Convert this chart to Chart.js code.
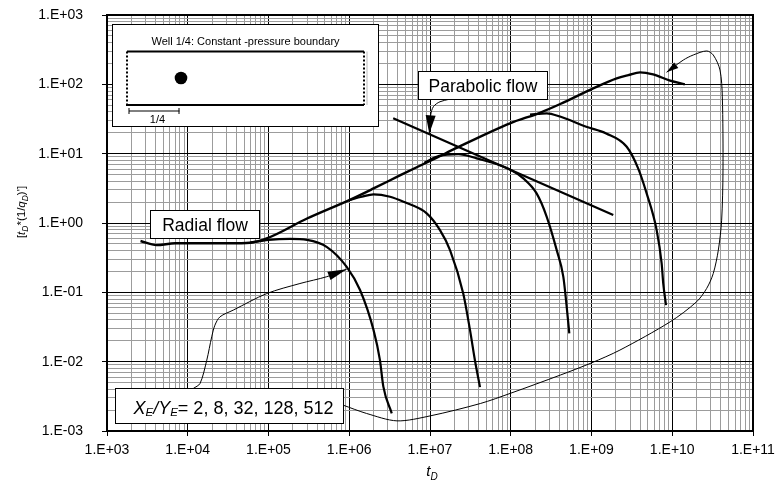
<!DOCTYPE html>
<html lang="en">
<head>
<meta charset="UTF-8">
<title>Rate derivative type curves - well 1/4</title>
<style>
    html, body {
        margin: 0;
        padding: 0;
        background: #fff;
    }
    .chart-box {
        position: relative;
        width: 777px;
        height: 489px;
    }
</style>
</head>
<body>
<div class="chart-box">
    <canvas id="type-curves"></canvas>
</div>

<script src="https://cdn.jsdelivr.net/npm/chart.js"></script>
<script>
    // Dimensionless time t_D and derivative [t_D*(1/q_D)'] along each curve.
    // XE/YE = 512 follows the full radial + parabolic envelope.
    const envelopeT = [2.6e3, 4.1e3, 7.0e3, 1.4e4, 3.3e4, 5.9e4, 9.5e4, 3.0e5, 1.0e6, 2.0e6, 4.3e6, 1.2e7, 2.1e7, 9.8e7, 2.3e8, 4.1e8, 1.05e9, 2.05e9, 2.86e9, 4.0e9, 5.8e9, 9.4e9, 1.43e10];
    const envelopeY = [0.55, 0.48, 0.51, 0.51, 0.51, 0.52, 0.60, 1.16, 2.14, 3.15, 4.9, 8.7, 12.0, 27.4, 38.9, 52.0, 87.5, 122, 136, 149, 139, 113, 100];

    const ratio2T = [5.9e4, 1.0e5, 1.85e5, 3.0e5, 5.3e5, 9.3e5, 1.36e6, 2.0e6, 2.4e6, 2.64e6, 3.36e6];
    const ratio2Y = [0.52, 0.57, 0.59, 0.57, 0.45, 0.233, 0.108, 0.0285, 0.0105, 4.4e-3, 1.8e-3];

    const ratio8T = [1.0e6, 1.43e6, 2.0e6, 3.2e6, 4.7e6, 9.1e6, 1.33e7, 1.77e7, 2.58e7, 3.13e7, 3.6e7, 4.16e7];
    const ratio8Y = [2.14, 2.39, 2.59, 2.39, 2.02, 1.38, 0.79, 0.407, 0.0964, 0.0285, 0.0105, 4.3e-3];

    const ratio32T = [8.5e6, 1.3e7, 2.24e7, 3.79e7, 9.8e7, 1.43e8, 2.09e8, 2.79e8, 3.71e8, 4.48e8, 4.93e8, 5.31e8];
    const ratio32Y = [7.4, 9.3, 9.87, 8.55, 5.93, 4.40, 2.67, 1.23, 0.406, 0.167, 0.0618, 0.0255];

    const ratio128T = [1.73e8, 2.79e8, 4.07e8, 8.61e8, 1.52e9, 2.73e9, 3.77e9, 4.82e9, 6.41e9, 7.39e9, 7.74e9, 8.37e9];
    const ratio128Y = [36.7, 38.2, 34.3, 24.4, 19.6, 12.6, 6.2, 2.67, 0.79, 0.261, 0.134, 0.0653];

    // slope -1/2 reference line for parabolic flow
    const parabolicT = [3.5e6, 1.86e9];
    const parabolicY = [32.3, 1.30];

    // leader lines from the labels to the curves
    const leaderParabolicT = [2.24e7, 1.33e7, 1.10e7, 1.02e7, 9.8e6];
    const leaderParabolicY = [64.9, 56.1, 47.5, 36.1, 19.6];

    const leaderRatioLowT = [1.17e4, 1.42e4, 1.72e4, 1.98e4, 2.17e4, 2.51e4, 3.66e4, 9.5e4, 2.45e5, 5.26e5, 9.3e5];
    const leaderRatioLowY = [4.1e-3, 4.85e-3, 1.05e-2, 2.28e-2, 3.36e-2, 4.44e-2, 5.54e-2, 9.6e-2, 0.134, 0.168, 0.216];

    const leaderRatioHighT = [8.4e5, 1.64e6, 3.9e6, 1.0e7, 4.2e7, 9.8e7, 4.1e8, 1.0e9, 2.25e9, 9.4e9, 2.0e10, 2.67e10, 3.22e10, 3.72e10, 4.09e10, 4.25e10, 4.17e10, 3.9e10, 3.22e10, 2.67e10, 1.82e10, 1.37e10, 8.5e9];
    const leaderRatioHighY = [2.36e-3, 1.79e-3, 1.40e-3, 1.65e-3, 2.49e-3, 3.48e-3, 6.4e-3, 9.6e-3, 1.47e-2, 3.75e-2, 7.3e-2, 0.114, 0.187, 0.406, 1.10, 5.8, 66, 161, 265, 303, 265, 224, 149];

    // axis tick labels, one per decade
    const xTickLabels = ['1.E+03', '1.E+04', '1.E+05', '1.E+06', '1.E+07', '1.E+08', '1.E+09', '1.E+10', '1.E+11'];
    const yTickLabels = ['1.E-03', '1.E-02', '1.E-01', '1.E+00', '1.E+01', '1.E+02', '1.E+03'];

    const chartFont = '"Liberation Sans", Arial, Helvetica, sans-serif';

    function toPoints(ts, ys) {
        return ts.map((t, i) => ({ x: t, y: ys[i] }));
    }

    // 1..9 x 10^e for every decade, so each gets its fine grid
    function decadeTicks(lo, hi) {
        const out = [];
        for (let e = lo; e < hi; e++) {
            for (let m = 1; m <= 9; m++) {
                out.push({ value: Number((m * Math.pow(10, e)).toPrecision(6)) });
            }
        }
        out.push({ value: Math.pow(10, hi) });
        return out;
    }

    function isDecade(v) {
        const l = Math.log10(v);
        return Math.abs(l - Math.round(l)) < 1e-6;
    }

    // type curves run left to right, so monotone splines keep them smooth
    function curve(ts, ys, width, extra) {
        return Object.assign({
            data: toPoints(ts, ys),
            showLine: true,
            borderColor: '#000',
            backgroundColor: '#000',
            borderWidth: width,
            pointRadius: 0,
            cubicInterpolationMode: 'monotone',
            borderCapStyle: 'butt',
            borderJoinStyle: 'round'
        }, extra || {});
    }

    function leader(ts, ys, head) {
        return curve(ts, ys, 1, { cubicInterpolationMode: 'default', tension: 0.3, arrowHead: head });
    }

    // draws a sequence of text pieces (italic / subscript) side by side
    function drawRuns(ctx, runs, x, y, align) {
        const fontOf = r => (r.italic ? 'italic ' : '') + r.size + 'px ' + chartFont;
        let total = 0;
        runs.forEach(r => {
            ctx.font = fontOf(r);
            r.w = ctx.measureText(r.text).width;
            total += r.w;
        });
        let cx = align === 'center' ? x - total / 2 : x;
        ctx.textAlign = 'left';
        ctx.textBaseline = 'alphabetic';
        runs.forEach(r => {
            ctx.font = fontOf(r);
            ctx.fillText(r.text, cx, y + (r.shift || 0));
            cx += r.w;
        });
    }

    function arrowHead(ctx, fromX, fromY, tipX, tipY, len, width) {
        const a = Math.atan2(tipY - fromY, tipX - fromX);
        const bx = tipX - len * Math.cos(a);
        const by = tipY - len * Math.sin(a);
        const nx = -Math.sin(a) * width / 2;
        const ny = Math.cos(a) * width / 2;
        ctx.beginPath();
        ctx.moveTo(tipX, tipY);
        ctx.lineTo(bx + nx, by + ny);
        ctx.lineTo(bx - nx, by - ny);
        ctx.closePath();
        ctx.fill();
    }

    // label boxes, anchored in data units (t_D, derivative)
    const notes = {
        radial: { from: [3.41e3, 1.53], to: [7.7e4, 0.600], text: 'Radial flow', size: 17.5 },
        parabolic: { from: [7.05e6, 155.6], to: [2.79e8, 61.4], text: 'Parabolic flow', size: 17.5 },
        ratios: { from: [1.26e3, 4.19e-3], to: [8.44e5, 1.31e-3] },
        well: { from: [1.16e3, 741], to: [2.27e6, 25.0] }
    };

    const decorations = {
        id: 'decorations',
        afterDatasetsDraw(chart) {
            const { ctx, chartArea } = chart;
            const sx = chart.scales.x;
            const sy = chart.scales.y;
            const box = n => {
                const x1 = Math.round(sx.getPixelForValue(n.from[0])) + 0.5;
                const y1 = Math.round(sy.getPixelForValue(n.from[1])) + 0.5;
                const x2 = Math.round(sx.getPixelForValue(n.to[0])) + 0.5;
                const y2 = Math.round(sy.getPixelForValue(n.to[1])) + 0.5;
                ctx.fillStyle = '#fff';
                ctx.fillRect(x1, y1, x2 - x1, y2 - y1);
                ctx.strokeStyle = '#000';
                ctx.lineWidth = 1;
                ctx.strokeRect(x1, y1, x2 - x1, y2 - y1);
                return { x1, y1, x2, y2 };
            };

            ctx.save();

            // arrow heads at the end of the leader lines
            chart.data.datasets.forEach((ds, i) => {
                if (!ds.arrowHead) return;
                const pts = chart.getDatasetMeta(i).data;
                const tip = pts[pts.length - 1];
                const prev = pts[pts.length - 2];
                let fx = prev.x, fy = prev.y;
                if (tip.cp1x !== undefined && Math.hypot(tip.cp1x - tip.x, tip.cp1y - tip.y) > 2) {
                    fx = tip.cp1x;
                    fy = tip.cp1y;
                }
                ctx.fillStyle = '#000';
                arrowHead(ctx, fx, fy, tip.x, tip.y, ds.arrowHead[0], ds.arrowHead[1]);
            });

            // flow regime labels
            ['radial', 'parabolic'].forEach(key => {
                const n = notes[key];
                const b = box(n);
                ctx.fillStyle = '#000';
                drawRuns(ctx, [{ text: n.text, size: n.size }], (b.x1 + b.x2) / 2, b.y2 - 7.5, 'center');
            });

            // XE/YE legend
            const r = box(notes.ratios);
            ctx.fillStyle = '#000';
            drawRuns(ctx, [
                { text: 'X', italic: true, size: 18 },
                { text: 'E', italic: true, size: 11.5, shift: 2 },
                { text: '/', italic: true, size: 18 },
                { text: 'Y', italic: true, size: 18 },
                { text: 'E', italic: true, size: 11.5, shift: 2 },
                { text: '= 2, 8, 32, 128, 512', size: 18 }
            ], r.x1 + 18, r.y2 - 9.5, 'left');

            // well location sketch
            const w = box(notes.well);
            ctx.fillStyle = '#000';
            drawRuns(ctx, [{ text: 'Well 1/4: Constant -pressure boundary', size: 11 }], (w.x1 + w.x2) / 2, w.y1 + 20.5, 'center');
            const rl = w.x1 + 14.5, rr = w.x1 + 251.5, rt = w.y1 + 27, rb = w.y1 + 80.5;
            ctx.strokeStyle = '#000';
            ctx.lineWidth = 2;
            ctx.beginPath();
            ctx.moveTo(rl, rt); ctx.lineTo(rr, rt);
            ctx.moveTo(rl - 1, rb); ctx.lineTo(rr, rb);
            ctx.stroke();
            ctx.setLineDash([2, 2]);
            ctx.beginPath();
            ctx.moveTo(rl, rt); ctx.lineTo(rl, rb);
            ctx.moveTo(rr, rt); ctx.lineTo(rr, rb);
            ctx.stroke();
            ctx.setLineDash([]);
            ctx.strokeStyle = '#bbb';
            ctx.lineWidth = 1;
            ctx.beginPath();
            ctx.moveTo(rr + 3, rt); ctx.lineTo(rr + 3, rb);
            ctx.stroke();
            ctx.beginPath();
            ctx.arc(w.x1 + 68.5, w.y1 + 53.5, 6.3, 0, Math.PI * 2);
            ctx.fill();
            ctx.strokeStyle = '#000';
            ctx.beginPath();
            ctx.moveTo(w.x1 + 16.5, w.y1 + 86.5); ctx.lineTo(w.x1 + 67, w.y1 + 86.5);
            ctx.moveTo(w.x1 + 16.5, w.y1 + 83.5); ctx.lineTo(w.x1 + 16.5, w.y1 + 89.5);
            ctx.moveTo(w.x1 + 66.5, w.y1 + 83.5); ctx.lineTo(w.x1 + 66.5, w.y1 + 89.5);
            ctx.stroke();
            drawRuns(ctx, [{ text: '1/4', size: 11 }], w.x1 + 45, w.y1 + 98.5, 'center');

            // plot frame
            ctx.strokeStyle = '#000';
            ctx.lineWidth = 2;
            ctx.strokeRect(chartArea.left, chartArea.top, chartArea.right - chartArea.left, chartArea.bottom - chartArea.top);
            ctx.restore();
        },
        afterDraw(chart) {
            const { ctx } = chart;
            ctx.save();
            ctx.fillStyle = '#000';
            // x title: t_D
            drawRuns(ctx, [
                { text: 't', italic: true, size: 15 },
                { text: 'D', italic: true, size: 10, shift: 4 }
            ], 432, 476, 'center');
            // y title: [t_D*(1/q_D)']
            ctx.translate(25, 212);
            ctx.rotate(-Math.PI / 2);
            drawRuns(ctx, [
                { text: '[', size: 11.5 },
                { text: 't', italic: true, size: 11.5 },
                { text: 'D', italic: true, size: 8.5, shift: 3 },
                { text: '*(1/', size: 11.5 },
                { text: 'q', italic: true, size: 11.5 },
                { text: 'D', italic: true, size: 8.5, shift: 3 },
                { text: ")']", size: 11.5 }
            ], 0, 0, 'center');
            ctx.restore();
        }
    };

    const gridColor = ctx => (ctx.tick && isDecade(ctx.tick.value)) ? '#000' : '#9c9c9c';
    const tickColor = ctx => (ctx.tick && isDecade(ctx.tick.value)) ? '#000' : 'rgba(0,0,0,0)';

    new Chart(document.getElementById('type-curves'), {
        type: 'scatter',
        data: {
            datasets: [
                curve(envelopeT, envelopeY, 2.4),
                curve(ratio2T, ratio2Y, 2.2),
                curve(ratio8T, ratio8Y, 2.2),
                curve(ratio32T, ratio32Y, 2.2),
                curve(ratio128T, ratio128Y, 2.2),
                curve(parabolicT, parabolicY, 2.2),
                leader(leaderParabolicT, leaderParabolicY, [18, 10]),
                leader(leaderRatioLowT, leaderRatioLowY, [19, 9]),
                leader(leaderRatioHighT, leaderRatioHighY, [12, 7])
            ]
        },
        options: {
            responsive: true,
            maintainAspectRatio: false,
            animation: false,
            layout: { padding: { top: 15, right: 24, left: 0, bottom: 0 } },
            plugins: {
                legend: { display: false },
                tooltip: { enabled: false }
            },
            scales: {
                x: {
                    type: 'logarithmic',
                    position: 'bottom',
                    min: 1e3,
                    max: 1e11,
                    afterBuildTicks: s => { s.ticks = decadeTicks(3, 11); },
                    afterFit: s => {
                        s.height = 58;
                        s.paddingLeft = 0;
                        s.paddingRight = 0;
                    },
                    border: { display: false },
                    grid: { color: gridColor, lineWidth: 1, tickLength: 5, tickColor: tickColor },
                    ticks: {
                        autoSkip: false,
                        maxRotation: 0,
                        padding: 6,
                        color: '#000',
                        font: { family: chartFont, size: 14 },
                        callback: v => isDecade(v) ? xTickLabels[Math.round(Math.log10(v)) - 3] : ''
                    }
                },
                y: {
                    type: 'logarithmic',
                    position: 'left',
                    min: 1e-3,
                    max: 1e3,
                    afterBuildTicks: s => { s.ticks = decadeTicks(-3, 3); },
                    afterFit: s => {
                        // keep the plot frame where the axis width says, not where label padding pushes it
                        s.width = 107;
                        s.paddingTop = 0;
                        s.paddingBottom = 0;
                    },
                    border: { display: false },
                    grid: { color: gridColor, lineWidth: 1, tickLength: 5, tickColor: tickColor },
                    ticks: {
                        autoSkip: false,
                        padding: 19,
                        color: '#000',
                        font: { family: chartFont, size: 14 },
                        callback: v => isDecade(v) ? yTickLabels[Math.round(Math.log10(v)) + 3] : ''
                    }
                }
            }
        },
        plugins: [decorations]
    });
</script>
</body>
</html>
